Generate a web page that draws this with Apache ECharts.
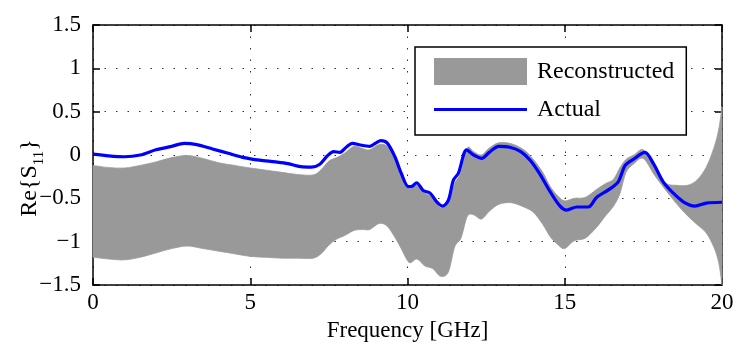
<!DOCTYPE html>
<html>
<head>
<meta charset="utf-8">
<script src="https://cdn.jsdelivr.net/npm/echarts@6/dist/echarts.min.js"></script>
<style>
html,body{margin:0;padding:0;background:#fff;}
#chart{width:747px;height:357px;}
</style>
</head>
<body>
<div id="chart"></div>
<script>
// Actual Re{S11}
const actualFreq = [0,0.5,1.0,1.5,2.0,2.5,2.9,3.3,3.8,4.3,4.8,5.3,5.8,6.2,6.6,6.95,7.2,7.45,7.65,7.85,8.05,8.25,8.5,8.8,9.0,9.15,9.35,9.6,9.8,10.03,10.15,10.29,10.5,10.72,10.93,11.12,11.3,11.46,11.62,11.88,12.1,12.36,12.6,12.9,13.25,13.6,13.9,14.21,14.53,14.85,15.06,15.38,15.75,16.01,16.4,16.7,16.92,17.18,17.55,17.82,18.13,18.45,18.77,19.14,19.5,20.0];
const actualVal = [0.01,-0.01,-0.02,0.0,0.06,0.10,0.135,0.12,0.07,0.02,-0.03,-0.06,-0.08,-0.10,-0.135,-0.14,-0.11,-0.01,0.04,0.03,0.09,0.135,0.115,0.10,0.14,0.165,0.14,-0.02,-0.21,-0.365,-0.36,-0.32,-0.41,-0.44,-0.54,-0.59,-0.52,-0.29,-0.21,0.06,0.0,-0.04,0.03,0.10,0.09,0.04,-0.06,-0.22,-0.42,-0.59,-0.635,-0.60,-0.60,-0.49,-0.40,-0.31,-0.12,-0.05,0.03,-0.10,-0.31,-0.44,-0.54,-0.59,-0.555,-0.545];

// Reconstructed band
const bandFreq = [0,0.5,1.0,1.5,2.0,2.5,3.0,3.5,4.0,4.5,5.0,5.5,6.0,6.5,7.0,7.25,7.5,7.75,8.0,8.3,8.6,8.8,9.1,9.35,9.6,9.8,10.05,10.3,10.55,10.8,11.05,11.3,11.5,11.7,11.9,12.1,12.35,12.6,12.9,13.3,13.7,14.0,14.3,14.55,14.8,15.0,15.3,15.65,16.0,16.3,16.55,16.75,16.95,17.2,17.5,17.85,18.2,18.55,18.9,19.2,19.5,19.75,19.9,20.0];
const bandUpper = [-0.12,-0.145,-0.15,-0.12,-0.08,-0.03,-0.005,-0.04,-0.09,-0.12,-0.15,-0.175,-0.20,-0.225,-0.23,-0.17,-0.07,-0.03,0.02,0.10,0.07,0.06,0.12,0.10,-0.05,-0.24,-0.39,-0.35,-0.44,-0.48,-0.61,-0.55,-0.33,-0.20,0.08,0.04,0.00,0.08,0.14,0.13,0.06,-0.05,-0.20,-0.37,-0.48,-0.53,-0.50,-0.49,-0.40,-0.33,-0.28,-0.15,-0.05,0.00,0.06,-0.12,-0.32,-0.35,-0.35,-0.29,-0.14,0.09,0.30,0.56];
const bandLower = [-1.18,-1.20,-1.21,-1.18,-1.13,-1.08,-1.05,-1.08,-1.11,-1.14,-1.17,-1.18,-1.19,-1.19,-1.19,-1.14,-1.04,-0.97,-0.93,-0.87,-0.86,-0.86,-0.79,-0.82,-0.95,-1.08,-1.24,-1.20,-1.28,-1.31,-1.40,-1.35,-1.06,-0.96,-0.71,-0.69,-0.74,-0.65,-0.57,-0.55,-0.60,-0.66,-0.80,-0.95,-1.04,-1.08,-0.99,-0.96,-0.84,-0.70,-0.59,-0.45,-0.20,-0.10,-0.04,-0.23,-0.40,-0.56,-0.70,-0.80,-0.90,-1.07,-1.25,-1.50];

const xTicks = [0,5,10,15,20];
const yTicks = [-1.5,-1,-0.5,0,0.5,1,1.5];

const FONT = '"Liberation Serif","Times New Roman",serif';

const actualData = actualFreq.map((f,i)=>[f, actualVal[i]]);

function fmtY(v){ return v < 0 ? '\u2212' + String(-v) : String(v); }

// Catmull-Rom curve through pixel points (appends to path string, assumes already at pts[0])
function curveThrough(pts){
  let d = '';
  for (let i = 0; i < pts.length - 1; i++){
    const p0 = pts[Math.max(i-1,0)], p1 = pts[i], p2 = pts[i+1], p3 = pts[Math.min(i+2, pts.length-1)];
    const t = 0.16;
    const c1x = p1[0] + (p2[0]-p0[0])*t, c1y = p1[1] + (p2[1]-p0[1])*t;
    const c2x = p2[0] - (p3[0]-p1[0])*t, c2y = p2[1] - (p3[1]-p1[1])*t;
    d += ' C' + c1x + ',' + c1y + ' ' + c2x + ',' + c2y + ' ' + p2[0] + ',' + p2[1];
  }
  return d;
}

const chart = echarts.init(document.getElementById('chart'), null, {renderer:'canvas'});
const axisLineStyle = {color:'#000', width:1.5};
chart.setOption({
  animation:false,
  backgroundColor:'#fff',
  grid:{left:93, right:25, top:25, bottom:72, containLabel:false, outerBoundsMode:'none'},
  legend:{
    left:415, top:47,
    orient:'vertical',
    padding:[11,12,12,19],
    itemWidth:93, itemHeight:27, itemGap:11,
    backgroundColor:'#fff', borderColor:'#000', borderWidth:1.5, borderRadius:0,
    textStyle:{fontFamily:FONT, fontSize:24, color:'#000', padding:[0,0,0,5]},
    data:[
      {name:'Reconstructed', icon:'rect', itemStyle:{color:'#999999', borderWidth:0}},
      {name:'Actual', icon:'path://M0,0M0,27M0,12L93,12L93,15L0,15Z', itemStyle:{color:'#0000ff', borderWidth:0}}
    ]
  },
  xAxis:[{
    type:'value', min:0, max:20, interval:5,
    name:'Frequency [GHz]', nameLocation:'middle', nameGap:34, nameMoveOverlap:false,
    nameTextStyle:{fontFamily:FONT, fontSize:23, color:'#000'},
    axisLine:{show:true, onZero:false, lineStyle:axisLineStyle},
    axisTick:{show:true, inside:true, length:7, lineStyle:axisLineStyle},
    axisLabel:{fontFamily:FONT, fontSize:23, color:'#000', margin:6, formatter:v=>String(v)},
    splitLine:{show:true, lineStyle:{color:'#333', width:1, type:[1.5,10]}}
  },{
    type:'value', min:0, max:20, interval:5, position:'top',
    axisLine:{show:true, onZero:false, lineStyle:axisLineStyle},
    axisTick:{show:true, inside:true, length:7, lineStyle:axisLineStyle},
    axisLabel:{show:false}, splitLine:{show:false}
  }],
  yAxis:[{
    type:'value', min:-1.5, max:1.5, interval:0.5,
    name:'Re{S{sub|11}}', nameLocation:'middle', nameRotate:90, nameGap:46, nameMoveOverlap:false,
    nameTextStyle:{fontFamily:FONT, fontSize:24, color:'#000', padding:[0,46,0,0],
      rich:{sub:{fontFamily:FONT, fontSize:15, color:'#000', padding:[19,0,0,0], verticalAlign:'bottom'}}},
    axisLine:{show:true, onZero:false, lineStyle:axisLineStyle},
    axisTick:{show:true, inside:true, length:7, lineStyle:axisLineStyle},
    axisLabel:{fontFamily:FONT, fontSize:23, color:'#000', margin:12, formatter:fmtY},
    splitLine:{show:true, lineStyle:{color:'#333', width:1, type:[1.5,10]}}
  },{
    type:'value', min:-1.5, max:1.5, interval:0.5, position:'right',
    axisLine:{show:true, onZero:false, lineStyle:axisLineStyle},
    axisTick:{show:true, inside:true, length:7, lineStyle:axisLineStyle},
    axisLabel:{show:false}, splitLine:{show:false}
  }],
  series:[
    {
      name:'Reconstructed', type:'custom', coordinateSystem:'cartesian2d',
      xAxisIndex:0, yAxisIndex:0,
      data:[[bandFreq[0], bandLower[0]]],
      itemStyle:{color:'#999999'}, silent:true, z:2,
      renderItem:function(params, api){
        const top = bandFreq.map((f,i)=>api.coord([f, bandUpper[i]]));
        const bot = bandFreq.map((f,i)=>api.coord([f, bandLower[i]])).reverse();
        let d = 'M' + top[0][0] + ',' + top[0][1] + curveThrough(top);
        d += ' L' + bot[0][0] + ',' + bot[0][1] + curveThrough(bot) + ' Z';
        return {
          type:'path',
          shape:{pathData:d},
          style:{fill:'#999999', stroke:'#999999', lineWidth:0.8}
        };
      }
    },
    {
      name:'Actual', type:'line', data:actualData, symbol:'none', smooth:0.3,
      color:'#0000ff', lineStyle:{color:'#0000ff', width:3.2}, z:3
    }
  ]
});
</script>
</body>
</html>
